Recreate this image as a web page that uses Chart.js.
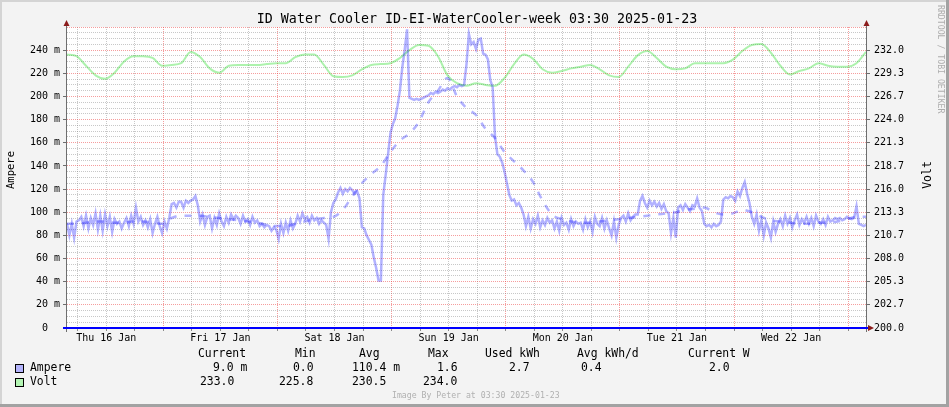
<!DOCTYPE html>
<html lang="en">
<head>
<meta charset="UTF-8">
<title>ID Water Cooler</title>
<script src="https://cdn.jsdelivr.net/npm/chart.js"></script>
<style>
  html, body { margin: 0; padding: 0; background: #f3f3f3; }
  canvas { display: block; }
</style>
</head>
<body>
<canvas id="cooler" width="949" height="407"></canvas>
<script>
// current draw in mA, one sample every half hour from the left edge (Thu 16 Jan)
const ampStepHours = 0.5;
const ampValues = [
  90, 80, 90, 78, 92, 93, 96, 88, 97, 86, 95, 89,
  99, 85, 97, 84, 98, 88, 96, 83, 94, 90, 92, 86,
  91, 95, 88, 97, 90, 104, 92, 96, 89, 93, 87, 94,
  82, 90, 96, 88, 82, 92, 86, 95, 107, 108, 104, 109,
  109, 104, 110, 108, 110, 111, 114, 106, 92, 98, 89, 96,
  97, 86, 95, 89, 99, 92, 88, 96, 91, 98, 94, 97,
  95, 90, 97, 92, 94, 89, 96, 91, 93, 88, 90, 87,
  89, 88, 84, 87, 85, 77, 90, 82, 91, 84, 93, 86,
  90, 97, 92, 99, 94, 96, 91, 97, 93, 95, 90, 93,
  91, 89, 77, 100, 108, 111, 117, 121, 116, 120, 118, 121,
  119, 116, 118, 112, 87, 86, 80, 76, 72, 61, 52, 41,
  41, 115, 132, 150, 168, 176, 181, 192, 205, 225, 240, 258,
  199, 198, 197, 198, 197, 198, 199, 200, 201, 203, 202, 204,
  203, 204, 206, 205, 207, 206, 208, 209, 208, 210, 209, 210,
  228, 254, 245, 247, 241, 249, 250, 237, 236, 232, 214, 208,
  165, 150, 148, 143, 135, 125, 115, 110, 111, 106, 108, 104,
  98, 88, 96, 86, 94, 90, 97, 87, 93, 89, 95, 91,
  93, 86, 92, 84, 95, 89, 91, 85, 94, 88, 92, 90,
  91, 85, 94, 87, 92, 83, 96, 90, 88, 95, 86, 93,
  86, 80, 92, 78, 89, 95, 97, 92, 99, 93, 96, 98,
  98, 110, 114, 108, 104, 110, 106, 109, 105, 108, 103, 107,
  101, 99, 82, 95, 78, 104, 106, 102, 107, 104, 101, 106,
  105, 112, 104, 101, 90, 88, 89, 87, 90, 88, 89, 92,
  111, 113, 112, 114, 113, 110, 118, 114, 121, 126, 116, 108,
  96, 90, 98, 84, 93, 80, 91, 86, 78, 92, 83, 90,
  94, 88, 97, 90, 95, 87, 93, 98, 89, 94, 91, 96,
  90, 95, 88, 97, 92, 90, 94, 89, 96, 92, 93, 95,
  94, 95, 93, 94, 96, 95, 94, 95, 105, 90, 89, 88,
  89
];

// smoothed current (dashed), mA every 2 hours
const trendStepHours = 2;
const trendValues = [
  90, 90, 91, 92, 92, 91, 91, 92, 92, 91,
  90, 95, 97, 97, 97, 96, 95, 94, 93, 92,
  91, 89, 88, 88, 90, 92, 94, 95, 96, 102,
  114, 125, 133, 140, 152, 162, 168, 178, 195, 205,
  216, 200, 190, 184, 172, 164, 152, 144, 136, 126,
  110, 98, 94, 92, 91, 91, 92, 93, 94, 95,
  96, 97, 98, 99, 100, 102, 103, 104, 100, 98,
  99, 102, 100, 96, 93, 92, 91, 90, 90, 91,
  91, 92, 94, 96, 96
];

// mains voltage, every 2 hours
const voltStepHours = 2;
const voltValues = [
  231.5, 231.3, 230.2, 229.1, 228.7, 229.4, 230.7, 231.3, 231.3, 231.1,
  230.2, 230.3, 230.5, 231.8, 231.2, 229.9, 229.4, 230.2, 230.3, 230.3,
  230.3, 230.4, 230.5, 230.5, 231.2, 231.5, 231.5, 230.3, 229.0, 228.9,
  229.1, 229.8, 230.3, 230.4, 230.5, 231.1, 232.0, 232.6, 232.5, 231.3,
  229.1, 228.2, 227.9, 228.2, 228.0, 227.9, 228.8, 230.4, 231.5, 231.0,
  229.8, 229.4, 229.6, 229.9, 230.1, 230.3, 229.8, 229.1, 228.9, 230.1,
  231.4, 231.9, 231.1, 230.1, 229.8, 229.9, 230.5, 230.5, 230.5, 230.5,
  230.9, 231.9, 232.6, 232.7, 231.7, 230.2, 229.2, 229.6, 229.9, 230.5,
  230.2, 230.1, 230.1, 230.5, 231.8
];

const dayLabels = ['Thu 16 Jan', 'Fri 17 Jan', 'Sat 18 Jan', 'Sun 19 Jan', 'Mon 20 Jan', 'Tue 21 Jan', 'Wed 22 Jan'];
const firstMidnight = 20.25;   // hours from the left edge to 17 Jan 00:00
const spanHours = 168;
const voltTickLabels = ['200.0', '202.7', '205.3', '208.0', '210.7', '213.3', '216.0', '218.7', '221.3', '224.0', '226.7', '229.3', '232.0'];

const titleText = 'ID Water Cooler ID-EI-WaterCooler-week 03:30 2025-01-23';
const legendHeaders = ['Current', 'Min', 'Avg', 'Max', 'Used kWh', 'Avg kWh/d', 'Current W'];
const ampereStats = ['9.0 m', '0.0', '110.4 m', '1.6', '2.7', '0.4', '2.0'];
const voltStats = ['233.0', '225.8', '230.5', '234.0'];
const footerText = 'Image By Peter at 03:30 2025-01-23';

const mono = '"DejaVu Sans Mono", monospace';
const redGrid = 'rgba(235,60,60,0.5)';
const greyGrid = 'rgba(125,125,125,0.42)';
const ampColor = 'rgba(0,0,255,0.3)';
const voltColor = 'rgba(0,215,0,0.32)';

function dayPhase(h) {
    return ((h - firstMidnight) % 24 + 24) % 24;
}

// background, frame, axis lines, arrows and all the rrdtool style text
const rrdFrame = {
    id: 'rrdFrame',
    beforeDraw(chart) {
        const ctx = chart.ctx;
        const a = chart.chartArea;
        ctx.save();
        ctx.fillStyle = '#f3f3f3';
        ctx.fillRect(0, 0, 949, 407);
        ctx.fillStyle = '#d4d4d4';
        ctx.fillRect(0, 0, 949, 2);
        ctx.fillRect(0, 0, 2, 407);
        ctx.fillStyle = '#a2a2a2';
        ctx.fillRect(0, 404, 949, 3);
        ctx.fillRect(946, 0, 3, 407);
        ctx.fillStyle = '#ffffff';
        ctx.fillRect(a.left, a.top, a.right - a.left, a.bottom - a.top);
        ctx.restore();
    },
    afterDraw(chart) {
        const ctx = chart.ctx;
        const a = chart.chartArea;
        ctx.save();

        // axis lines
        ctx.fillStyle = '#6e6e6e';
        ctx.fillRect(a.left - 1, 21, 1, a.bottom - 21 + 4);
        ctx.fillRect(a.right, 21, 1, a.bottom - 21 + 4);
        ctx.fillStyle = '#0000ff';
        ctx.fillRect(a.left - 4, a.bottom - 1, a.right - a.left + 6, 2);

        // arrows
        ctx.fillStyle = '#8c1c1c';
        const up = x => {
            ctx.beginPath();
            ctx.moveTo(x + 0.5, 20);
            ctx.lineTo(x + 3.5, 26);
            ctx.lineTo(x - 2.5, 26);
            ctx.closePath();
            ctx.fill();
        };
        up(a.left - 1);
        up(a.right);
        ctx.beginPath();
        ctx.moveTo(a.right + 8, a.bottom);
        ctx.lineTo(a.right + 2, a.bottom - 3);
        ctx.lineTo(a.right + 2, a.bottom + 3);
        ctx.closePath();
        ctx.fill();

        // title
        ctx.fillStyle = '#000';
        ctx.textBaseline = 'alphabetic';
        ctx.textAlign = 'center';
        ctx.font = '13.3px ' + mono;
        ctx.fillText(titleText, 477, 23);

        // axis titles
        ctx.save();
        ctx.translate(11, 170);
        ctx.rotate(-Math.PI / 2);
        ctx.textBaseline = 'middle';
        ctx.font = '10.5px ' + mono;
        ctx.fillText('Ampere', 0, 0);
        ctx.restore();
        ctx.save();
        ctx.translate(928, 175);
        ctx.rotate(-Math.PI / 2);
        ctx.textBaseline = 'middle';
        ctx.font = '11.5px ' + mono;
        ctx.fillText('Volt', 0, 0);
        ctx.restore();

        // watermark
        ctx.save();
        ctx.translate(940, 5);
        ctx.rotate(Math.PI / 2);
        ctx.textAlign = 'left';
        ctx.textBaseline = 'middle';
        ctx.fillStyle = '#adadad';
        ctx.font = '8.2px ' + mono;
        ctx.fillText('RRDTOOL / TOBI OETIKER', 0, 0);
        ctx.restore();

        // legend
        ctx.textAlign = 'left';
        ctx.textBaseline = 'middle';
        ctx.font = '11.4px ' + mono;
        const headX = [198, 295, 359, 428, 485, 577, 688];
        legendHeaders.forEach((t, i) => ctx.fillText(t, headX[i], 354));
        const ampX = [213, 293, 352, 437, 509, 581, 709];
        const voltX = [200, 279, 352, 423];
        ctx.fillText('Ampere', 30, 368);
        ampereStats.forEach((t, i) => ctx.fillText(t, ampX[i], 368));
        ctx.fillText('Volt', 30, 382);
        voltStats.forEach((t, i) => ctx.fillText(t, voltX[i], 382));

        const box = (y, fill) => {
            ctx.fillStyle = fill;
            ctx.fillRect(15, y, 9, 9);
            ctx.strokeStyle = '#000';
            ctx.lineWidth = 1;
            ctx.strokeRect(15.5, y + 0.5, 8, 8);
        };
        box(364, '#b3b3fc');
        box(378, '#b3f5b3');

        ctx.fillStyle = '#b0b0b0';
        ctx.font = '8.2px ' + mono;
        ctx.fillText(footerText, 392, 396);
        ctx.restore();
    }
};

const ctx = document.getElementById('cooler').getContext('2d');
const coolerChart = new Chart(ctx, {
    type: 'line',
    data: {
        datasets: [
            {
                label: 'Ampere',
                data: ampValues.map((v, i) => ({ x: i * ampStepHours, y: v })),
                yAxisID: 'y',
                borderColor: ampColor,
                borderWidth: 2.5,
                pointRadius: 0,
                tension: 0
            },
            {
                label: 'Ampere trend',
                data: trendValues.map((v, i) => ({ x: i * trendStepHours, y: v })),
                yAxisID: 'y',
                borderColor: ampColor,
                borderWidth: 2.5,
                borderDash: [7, 8],
                pointRadius: 0,
                cubicInterpolationMode: 'monotone'
            },
            {
                label: 'Volt',
                data: voltValues.map((v, i) => ({ x: i * voltStepHours, y: v })),
                yAxisID: 'y2',
                borderColor: voltColor,
                borderWidth: 2,
                pointRadius: 0,
                cubicInterpolationMode: 'monotone'
            }
        ]
    },
    options: {
        responsive: false,
        animation: false,
        devicePixelRatio: 1,
        layout: { padding: { top: 27, left: 0, right: 0, bottom: 0 } },
        plugins: {
            legend: { display: false },
            tooltip: { enabled: false }
        },
        scales: {
            x: {
                type: 'linear',
                min: 0,
                max: spanHours,
                afterBuildTicks: s => {
                    s.ticks = [];
                    for (let h = firstMidnight % 6; h <= spanHours; h += 6) s.ticks.push({ value: h });
                },
                afterFit: s => { s.height = 79; },
                ticks: {
                    autoSkip: false,
                    maxRotation: 0,
                    padding: 1,
                    color: '#000',
                    font: { family: mono, size: 10 },
                    callback: v => {
                        if (Math.abs(dayPhase(v) - 12) > 0.01) return '';
                        return dayLabels[Math.floor((v - firstMidnight + 24) / 24)] || '';
                    }
                },
                grid: {
                    color: c => dayPhase(c.tick.value) < 0.01 ? redGrid : greyGrid,
                    tickLength: 3,
                    tickColor: '#8a8a8a'
                },
                border: { display: false, dash: [1, 1] }
            },
            y: {
                position: 'left',
                min: 0,
                max: 260,
                afterBuildTicks: s => {
                    s.ticks = [];
                    for (let v = 0; v <= 260; v += 5) s.ticks.push({ value: v });
                },
                afterFit: s => { s.width = 67; },
                ticks: {
                    autoSkip: false,
                    padding: 3,
                    color: '#000',
                    font: { family: mono, size: 10 },
                    callback: v => {
                        if (v % 20 !== 0 || v > 240) return '';
                        return v === 0 ? '0  ' : v + ' m';
                    }
                },
                grid: {
                    color: c => c.tick.value % 20 === 0 ? redGrid : greyGrid,
                    tickLength: 4,
                    tickColor: c => c.tick.value % 20 === 0 && c.tick.value <= 240 ? '#6e6e6e' : 'rgba(0,0,0,0)'
                },
                border: { display: false, dash: [1, 1] }
            },
            y2: {
                position: 'right',
                min: 200,
                max: 200 + 260 * 32 / 240,
                afterBuildTicks: s => {
                    s.ticks = voltTickLabels.map((t, i) => ({ value: 200 + i * 8 / 3 }));
                },
                afterFit: s => { s.width = 83; },
                ticks: {
                    autoSkip: false,
                    padding: 4,
                    color: '#000',
                    font: { family: mono, size: 10 },
                    callback: (v, i) => voltTickLabels[i]
                },
                grid: {
                    drawOnChartArea: false,
                    tickLength: 4,
                    tickColor: '#6e6e6e'
                },
                border: { display: false }
            }
        }
    },
    plugins: [rrdFrame]
});
</script>
</body>
</html>
